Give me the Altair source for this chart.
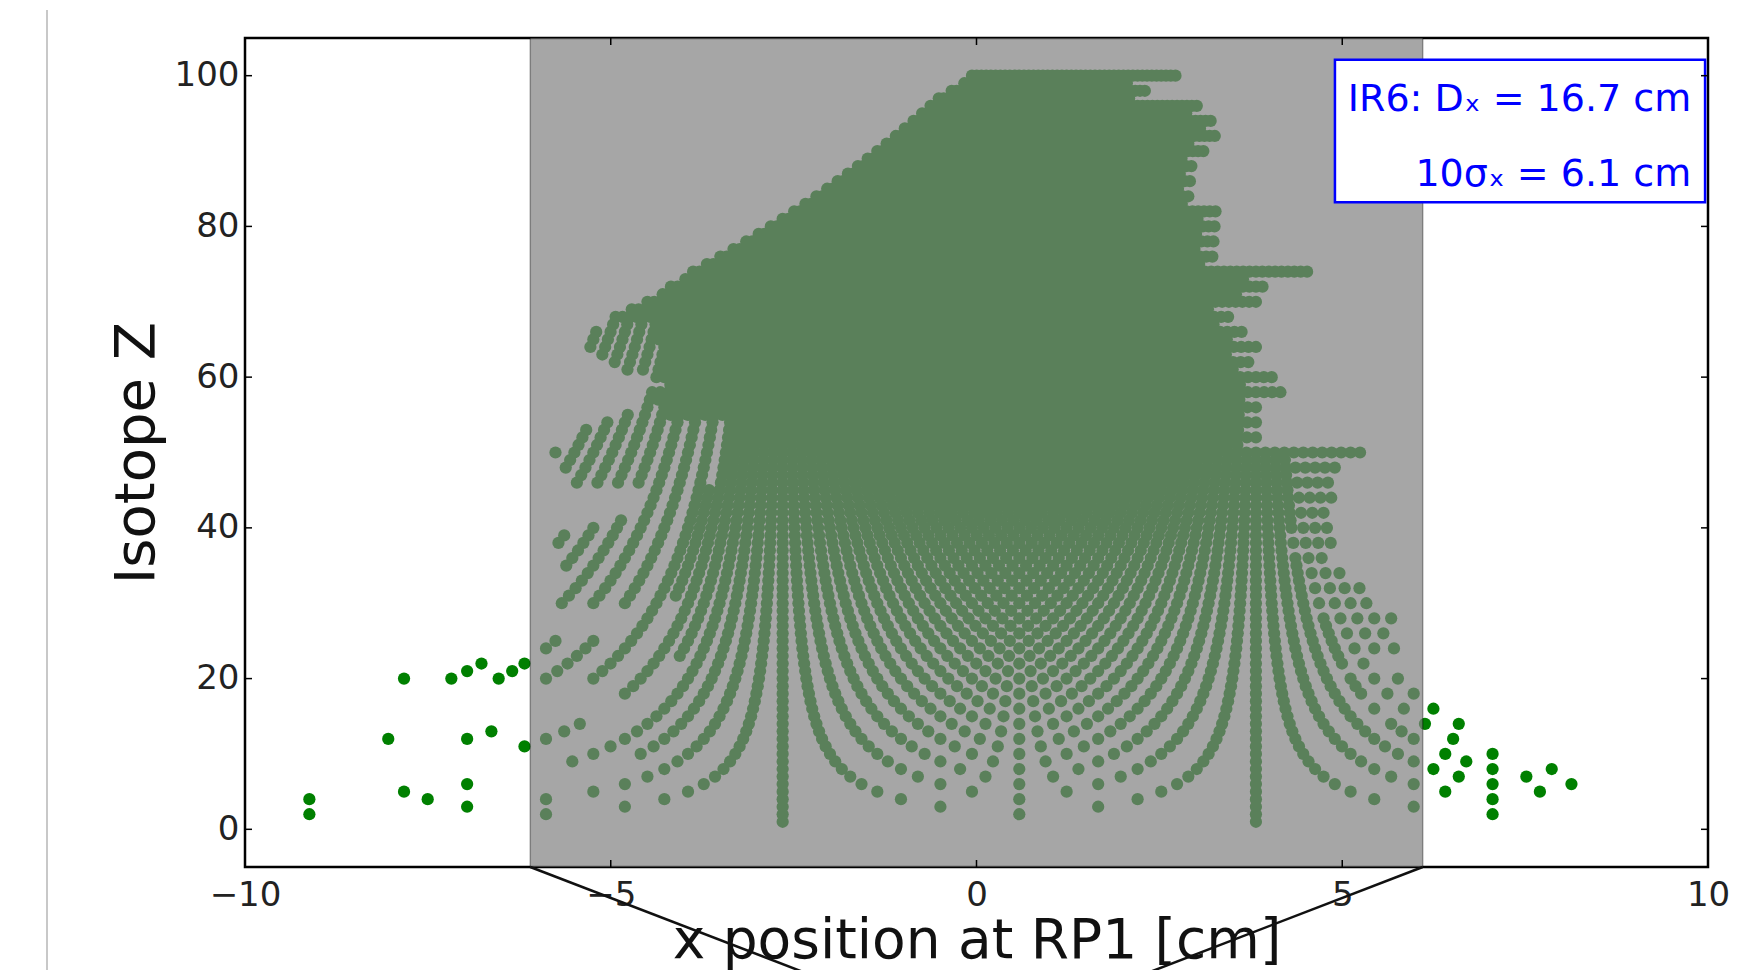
import altair as alt
import pandas as pd

alt.data_transformers.disable_max_rows()

X_TITLE = "x position at RP1 [cm]"
Y_TITLE = "Isotope Z"
BOX_LINE_1 = "IR6: Dₓ = 16.7 cm"
BOX_LINE_2 = "10σₓ = 6.1 cm"

x_ticks = [-10, -5, 0, 5, 10]
z_ticks = [0, 20, 40, 60, 80, 100]

# nuclides drawn for each element Z = 1..100
# a_first: lightest A in the row (below a_full only even A show up)
a_first = [
    2, 2, 4, 4, 6, 8, 12, 14, 14, 16,
    16, 14, 18, 22, 26, 28, 30, 30, 32, 24,
    28, 30, 36, 36, 38, 44, 46, 48, 50, 46,
    48, 50, 52, 54, 54, 56, 58, 58, 60, 64,
    68, 72, 74, 76, 78, 72, 74, 74, 76, 76,
    80, 82, 84, 88, 92, 96, 98, 100, 104, 104,
    102, 102, 102, 102, 104, 106, 110, 112, 116, 120,
    124, 127, 131, 134, 138, 142, 146, 150, 154, 158,
    162, 166, 170, 174, 178, 182, 186, 190, 194, 198,
    202, 206, 210, 214, 218, 222, 226, 231, 236, 240,
]
a_full = [
    2, 2, 4, 4, 9, 11, 13, 15, 17, 17,
    19, 21, 23, 25, 27, 29, 31, 33, 35, 37,
    39, 41, 41, 43, 45, 47, 49, 51, 53, 55,
    55, 57, 59, 61, 63, 65, 67, 69, 71, 73,
    75, 77, 79, 81, 83, 87, 89, 91, 93, 95,
    97, 99, 101, 103, 96, 98, 99, 101, 104, 105,
    106, 108, 110, 112, 113, 115, 117, 112, 116, 120,
    124, 127, 131, 134, 138, 142, 146, 150, 154, 158,
    162, 166, 170, 174, 178, 182, 186, 190, 194, 198,
    202, 206, 210, 214, 218, 222, 226, 231, 236, 240,
]
a_last = [
    3, 7, 10, 14, 18, 22, 25, 29, 31, 35,
    36, 41, 43, 48, 48, 54, 54, 60, 61, 66,
    66, 71, 73, 79, 79, 85, 85, 92, 90, 97,
    96, 103, 102, 108, 108, 113, 113, 120, 119, 126,
    126, 132, 132, 139, 138, 145, 144, 152, 150, 161,
    151, 156, 157, 162, 163, 168, 169, 177, 175, 182,
    180, 185, 185, 192, 191, 196, 195, 200, 200, 210,
    210, 217, 217, 230, 216, 221, 221, 227, 227, 233,
    233, 239, 236, 240, 241, 246, 247, 252, 253, 260,
    260, 268, 268, 273, 271, 276, 265, 271, 270, 283,
]

# position at RP1 is linear in A/Z: A/Z = 2 sits at -2.65 cm, A/Z = 3 at +3.82 cm
cm_per_az = 6.47
cm_offset = -15.59

sigma_cut = 6.1  # 10 sigma_x

rows = []
for z, (lo, full, hi) in enumerate(zip(a_first, a_full, a_last), start=1):
    for a in range(lo, hi + 1):
        if a < full and a % 2:
            continue
        rows.append({"x": round(cm_per_az * a / z + cm_offset, 4), "Z": z})
nuclides = pd.DataFrame(rows)

one = pd.DataFrame({"k": [0]})
W, H = 1463, 829

x_enc = alt.X(
    "x:Q",
    title=X_TITLE,
    scale=alt.Scale(domain=[-10, 10], nice=False, zero=False),
    axis=alt.Axis(
        values=x_ticks, format="d", labelFlush=False, labelPadding=11,
        titleFontSize=55, titlePadding=2,
    ),
)
y_enc = alt.Y(
    "Z:Q",
    title=Y_TITLE,
    scale=alt.Scale(domain=[-5, 105], nice=False, zero=False),
    axis=alt.Axis(values=z_ticks, format="d", labelPadding=6, titleFontSize=56, titlePadding=9),
)

points = alt.Chart(nuclides).mark_circle(size=150, opacity=1, color="#008000").encode(x=x_enc, y=y_enc)

band = alt.Chart(one).mark_rect(
    fill="#808080", fillOpacity=0.7, stroke="black", strokeOpacity=0.35, strokeWidth=1.5
).encode(x=alt.datum(-sigma_cut), x2=alt.datum(sigma_cut), y=alt.datum(-5), y2=alt.datum(105))

box = alt.Chart(one).mark_rect(fill="white", stroke="#0000ff", strokeWidth=2.5).encode(
    x=alt.datum(4.9), x2=alt.datum(9.96), y=alt.datum(83.2), y2=alt.datum(102.1)
)
line1 = alt.Chart(one).mark_text(
    text=BOX_LINE_1, align="right", baseline="alphabetic", font="DejaVu Sans", fontSize=38, color="#0000ff"
).encode(x=alt.datum(9.77), y=alt.datum(95.3))
line2 = alt.Chart(one).mark_text(
    text=BOX_LINE_2, align="right", baseline="alphabetic", font="DejaVu Sans", fontSize=38, color="#0000ff"
).encode(x=alt.datum(9.77), y=alt.datum(85.3))

# matplotlib style inward ticks on all four sides
xt = pd.DataFrame({"x": x_ticks})
zt = pd.DataFrame({"Z": z_ticks})
tick = dict(color="black", strokeWidth=1.5)
ticks_bottom = alt.Chart(xt).mark_rule(**tick).encode(x=alt.X("x:Q", title=X_TITLE), y=alt.value(H), y2=alt.value(H - 7))
ticks_top = alt.Chart(xt).mark_rule(**tick).encode(x=alt.X("x:Q", title=X_TITLE), y=alt.value(0), y2=alt.value(7))
ticks_left = alt.Chart(zt).mark_rule(**tick).encode(y=alt.Y("Z:Q", title=Y_TITLE), x=alt.value(0), x2=alt.value(7))
ticks_right = alt.Chart(zt).mark_rule(**tick).encode(y=alt.Y("Z:Q", title=Y_TITLE), x=alt.value(W), x2=alt.value(W - 7))

# zoom connectors running down from the band corners
conn_left = alt.Chart(one).mark_rule(color="#111111", strokeWidth=2.5).encode(
    x=alt.datum(-sigma_cut), y=alt.datum(-5), x2=alt.datum(-1.95), y2=alt.datum(-20.5)
)
conn_right = alt.Chart(one).mark_rule(color="#111111", strokeWidth=2.5).encode(
    x=alt.datum(sigma_cut), y=alt.datum(-5), x2=alt.datum(1.95), y2=alt.datum(-20.5)
)
page_edge = alt.Chart(one).mark_rule(color="#c8c8c8", strokeWidth=2).encode(
    x=alt.value(-198), y=alt.value(-28), y2=alt.value(940)
)

chart = (
    alt.layer(
        points, band, box, line1, line2,
        ticks_bottom, ticks_top, ticks_left, ticks_right,
        conn_left, conn_right, page_edge,
    )
    .properties(
        width=W, height=H,
        autosize=alt.AutoSizeParams(type="none"),
        padding={"left": 237, "top": 30, "right": 25, "bottom": 103},
    )
    .configure_view(stroke="black", strokeWidth=2.5)
    .configure_axis(
        labelFont="DejaVu Sans", titleFont="DejaVu Sans", labelFontSize=34,
        labelColor="#222222", titleColor="#111111", titleFontWeight="normal",
        ticks=False, domain=False, grid=False,
    )
)

chart.save("out.html", embed_options={"renderer": "svg", "actions": False})
